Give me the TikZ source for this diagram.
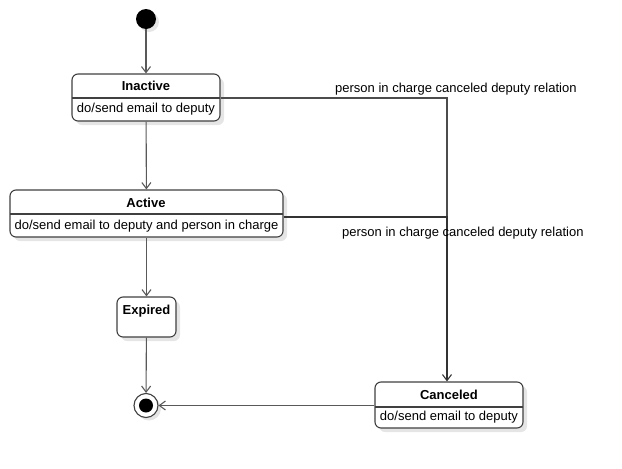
\documentclass[tikz,border=0pt]{standalone}
\usepackage{fontspec}
\setmainfont{Liberation Sans}
\usetikzlibrary{arrows.meta,shadows}
\begin{document}
\begin{tikzpicture}[x=1pt,y=-1pt,
  font=\fontsize{13}{15}\selectfont,
  statebox/.style={draw=black!75, line width=1.1pt, rounded corners=6pt, fill=white,
    drop shadow={shadow xshift=4pt, shadow yshift=-4pt, fill=black!10, opacity=1}, inner sep=0pt},
  conn/.style={draw=black!65, line width=1.1pt, -{Straight Barb[length=6pt,width=9pt]}},
  plain/.style={draw=black!65, line width=1.1pt},
  divider/.style={draw=black!75, line width=1.1pt},
  lbl/.style={inner sep=0pt, anchor=west},
  ttl/.style={inner sep=0pt, font=\fontsize{13}{15}\selectfont\bfseries}]
\useasboundingbox (0,0) rectangle (622,469);
% initial
\node[circle, fill=black, minimum size=20pt, inner sep=0pt,
  drop shadow={shadow xshift=3pt, shadow yshift=-3pt, fill=black!10, opacity=1}] (init) at (146,19) {};
% Inactive
\node[statebox, minimum width=148pt, minimum height=47pt] (inactive) at (146,97.5) {};
\draw[divider] (72,98) -- (220,98);
\node[ttl] (inactiveT) at (146,86) {Inactive};
\node[inner sep=0pt] (inactiveD) at (146,109.5) {do/send email to deputy};
% Active
\node[statebox, minimum width=273pt, minimum height=47pt] (active) at (146.5,213.5) {};
\draw[divider] (10,214) -- (283,214);
\node[ttl] (activeT) at (146,203) {Active};
\node[inner sep=0pt] (activeD) at (146.5,226) {do/send email to deputy and person in charge};
% Expired
\node[statebox, minimum width=59pt, minimum height=40pt] (expired) at (146.5,317) {};
\node[ttl] (expiredT) at (146.5,311) {Expired};
% Canceled
\node[statebox, minimum width=148pt, minimum height=46pt] (canceled) at (449,405) {};
\draw[divider] (375,407) -- (523,407);
\node[ttl] (canceledT) at (449,395) {Canceled};
\node[inner sep=0pt] (canceledD) at (449,417.5) {do/send email to deputy};
% final
\node[circle, draw=black!75, line width=1.1pt, fill=white, minimum size=24pt, inner sep=0pt,
  drop shadow={shadow xshift=3pt, shadow yshift=-3pt, fill=black!10, opacity=1}] (final) at (146,405.5) {};
\node[circle, fill=black, minimum size=14pt, inner sep=0pt] (finalin) at (146,405.5) {};
% connectors
\draw[conn] (init) -- (inactive);
\draw[conn] (inactive) -- (active);
\draw[conn] (active.south -| expired.north) -- (expired);
\draw[conn] (expired) -- (final);
\coordinate (c1) at (447,98);
\coordinate (c2) at (447,217);
\draw[plain, draw=black!70] (inactive.east |- c1) -- (c1) -- (c2);
\draw[conn, draw=black!80] (active.east |- c2) -- (c2) -- (canceled.north -| c2);
\draw[conn] (canceled.west |- 0,405.5) -- (final);
\node[lbl] (l1) at (335,89) {person in charge canceled deputy relation};
\node[lbl] (l2) at (342,233) {person in charge canceled deputy relation};
\end{tikzpicture}
\end{document}
